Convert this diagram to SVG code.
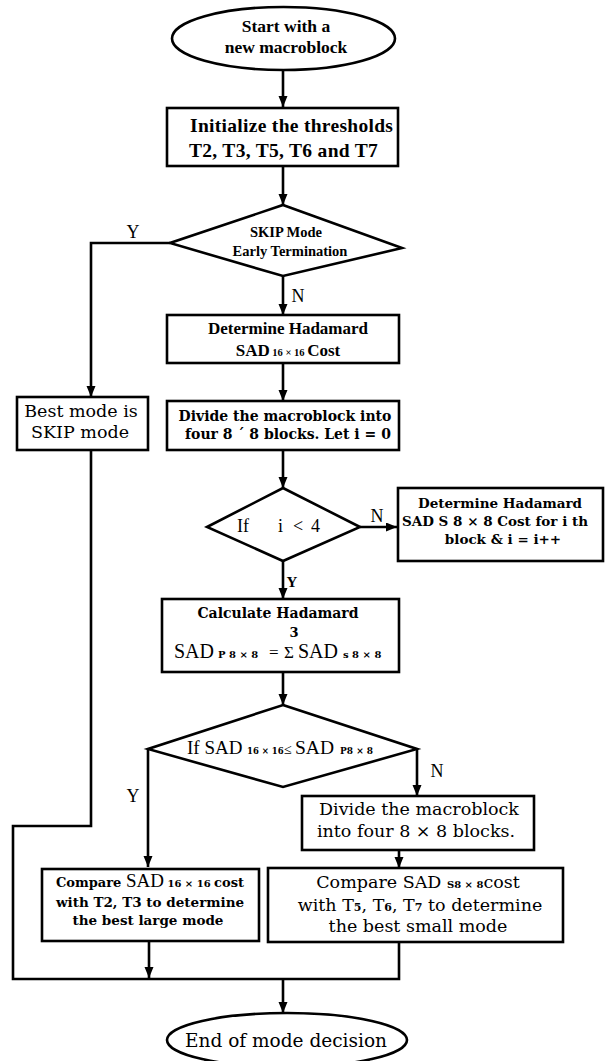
<svg xmlns="http://www.w3.org/2000/svg" width="605" height="1061" viewBox="0 0 605 1061">
<style>
.ln{stroke:#000;stroke-width:2.6;fill:none}
.bx{fill:#fff;stroke:#000;stroke-width:2.6}
.lb{font-family:"Liberation Serif",serif;font-weight:bold}
.lr{font-family:"Liberation Serif",serif}
.db{font-family:"DejaVu Serif",serif;font-weight:bold}
.dr{font-family:"DejaVu Serif",serif}
.m{text-anchor:middle}
text{fill:#000}
</style>
<defs>
<marker id="ah" markerUnits="userSpaceOnUse" markerWidth="12" markerHeight="10" refX="11" refY="4.5" orient="auto">
<path d="M0,0 L11,4.5 L0,9 z" fill="#000"/>
</marker>
</defs>
<rect width="605" height="1061" fill="#fff"/>
<g id="connectors">
<line class="ln" x1="283" y1="70" x2="283" y2="107" marker-end="url(#ah)"/>
<line class="ln" x1="283" y1="166" x2="283" y2="205" marker-end="url(#ah)"/>
<polyline class="ln" points="170,243 91,243 91,397" marker-end="url(#ah)"/>
<line class="ln" x1="283" y1="276" x2="283" y2="315" marker-end="url(#ah)"/>
<line class="ln" x1="283" y1="363" x2="283" y2="401" marker-end="url(#ah)"/>
<line class="ln" x1="283" y1="450" x2="283" y2="488" marker-end="url(#ah)"/>
<line class="ln" x1="360" y1="527" x2="397" y2="527" marker-end="url(#ah)"/>
<line class="ln" x1="283" y1="561" x2="283" y2="599" marker-end="url(#ah)"/>
<line class="ln" x1="283" y1="672" x2="283" y2="705" marker-end="url(#ah)"/>
<polyline class="ln" points="148,749 148,867" marker-end="url(#ah)"/>
<polyline class="ln" points="417,749 417,796" marker-end="url(#ah)"/>
<line class="ln" x1="399" y1="850" x2="399" y2="868" marker-end="url(#ah)"/>
<polyline class="ln" points="91,450 91,826 13,826 13,979 399,979 399,942"/>
<line class="ln" x1="149" y1="941" x2="149" y2="978" marker-end="url(#ah)"/>
<line class="ln" x1="283" y1="979" x2="283" y2="1013" marker-end="url(#ah)"/>
<text class="lr m" x="133" y="238" font-size="18">Y</text>
<text class="lr m" x="298" y="302" font-size="18">N</text>
<text class="lr m" x="377" y="522" font-size="18">N</text>
<text class="lb m" x="292" y="587" font-size="15">Y</text>
<text class="lr m" x="133" y="802" font-size="18">Y</text>
<text class="lr m" x="437" y="777" font-size="18">N</text>
</g>
<g id="start">
<ellipse class="bx" cx="283.5" cy="38.5" rx="111.5" ry="31.5"/>
<text class="lb m" x="286" y="32" font-size="17.5">Start with a</text>
<text class="lb m" x="286" y="53" font-size="17.5">new macroblock</text>
</g>
<g id="init">
<rect class="bx" x="167" y="108" width="231" height="58"/>
<text class="lb" x="190" y="132" font-size="19.5" letter-spacing="0.3">Initialize the thresholds</text>
<text class="lb" x="189" y="157" font-size="19.5" letter-spacing="0.3">T2, T3, T5, T6 and T7</text>
</g>
<g id="skip">
<polygon class="bx" points="283,205 402,248 283,276 170,243"/>
<text class="lb m" x="286" y="237" font-size="14.5">SKIP Mode</text>
<text class="lb m" x="290" y="256" font-size="14.5">Early Termination</text>
</g>
<g id="hadamard16">
<rect class="bx" x="167" y="315" width="232" height="48"/>
<text class="lb m" x="288" y="334" font-size="17">Determine Hadamard</text>
<text class="lb m" x="288" y="356" font-size="17">SAD<tspan font-size="10.5"> 16 × 16 </tspan>Cost</text>
</g>
<g id="best-skip">
<rect class="bx" x="17" y="397" width="131" height="53"/>
<text class="dr m" x="81" y="417" font-size="17.5">Best mode is</text>
<text class="dr m" x="80" y="438" font-size="17.5">SKIP mode</text>
</g>
<g id="divide1">
<rect class="bx" x="167" y="401" width="232" height="49"/>
<text class="db m" x="285" y="421" font-size="14">Divide the macroblock into</text>
<text class="db m" x="288" y="439" font-size="14">four 8 ´ 8 blocks. Let i = 0</text>
</g>
<g id="loop">
<polygon class="bx" points="283,488 360,527 283,561 207,527"/>
<text class="lr" x="237" y="532" font-size="18">If<tspan x="278">i</tspan><tspan x="293">&lt;</tspan><tspan x="311">4</tspan></text>
</g>
<g id="hadamard8">
<rect class="bx" x="398" y="488" width="205" height="73"/>
<text class="db m" x="500" y="508" font-size="13.5">Determine Hadamard</text>
<text class="db m" x="495" y="526" font-size="13.5">SAD S 8 × 8 Cost for i th</text>
<text class="db m" x="503" y="544" font-size="13.5">block &amp;  i = i++</text>
</g>
<g id="calc">
<rect class="bx" x="162" y="599" width="237" height="73"/>
<text class="db m" x="278" y="618" font-size="14">Calculate Hadamard</text>
<text class="db m" x="294" y="637" font-size="13">3</text>
<text y="658"><tspan class="lr" x="174" font-size="20">SAD</tspan><tspan class="db" x="218" font-size="10">P 8 × 8</tspan><tspan class="lr" x="269" font-size="17">=</tspan><tspan class="lr" x="284" font-size="17">Σ</tspan><tspan class="lr" x="298" font-size="20">SAD</tspan><tspan class="db" x="343" font-size="10">s 8 × 8</tspan></text>
</g>
<g id="compare-decision">
<polygon class="bx" points="283,705 417,749 283,787 148,749"/>
<text y="754"><tspan class="lr" x="187" font-size="19">If SAD</tspan><tspan class="db" x="247" font-size="8.5">16 × 16</tspan><tspan class="lr" x="284" font-size="14">≤</tspan><tspan class="lr" x="295" font-size="19.5">SAD</tspan><tspan class="db" x="340" font-size="9">P8 × 8</tspan></text>
</g>
<g id="divide2">
<rect class="bx" x="302" y="796" width="232" height="54"/>
<text class="dr m" x="419" y="815" font-size="17.5">Divide the macroblock</text>
<text class="dr m" x="416" y="837" font-size="17.5">into four 8 × 8 blocks.</text>
</g>
<g id="large-mode">
<rect class="bx" x="42" y="869" width="217" height="72"/>
<text class="m" x="150" y="887"><tspan class="db" font-size="13">Compare </tspan><tspan class="lr" font-size="19">SAD</tspan><tspan class="db" font-size="10"> 16 × 16 </tspan><tspan class="db" font-size="13">cost</tspan></text>
<text class="db m" x="150" y="907" font-size="13.5">with T2, T3 to determine</text>
<text class="db m" x="148" y="925" font-size="13.5">the best large mode</text>
</g>
<g id="small-mode">
<rect class="bx" x="268" y="868" width="295" height="74"/>
<text class="m" x="418" y="888"><tspan class="dr" font-size="17.5">Compare SAD </tspan><tspan class="db" font-size="10">S8 × 8</tspan><tspan class="dr" font-size="17.5">cost</tspan></text>
<text class="m dr" x="420" y="911" font-size="17.5">with T<tspan class="db" font-size="11">5</tspan>, T<tspan class="db" font-size="11">6</tspan>, T<tspan class="db" font-size="11">7</tspan> to determine</text>
<text class="dr m" x="418" y="932" font-size="17.5">the best small mode</text>
</g>
<g id="end">
<ellipse class="bx" cx="287" cy="1040" rx="120" ry="27"/>
<text class="dr m" x="286" y="1047" font-size="18.5">End of mode decision</text>
</g>
</svg>
